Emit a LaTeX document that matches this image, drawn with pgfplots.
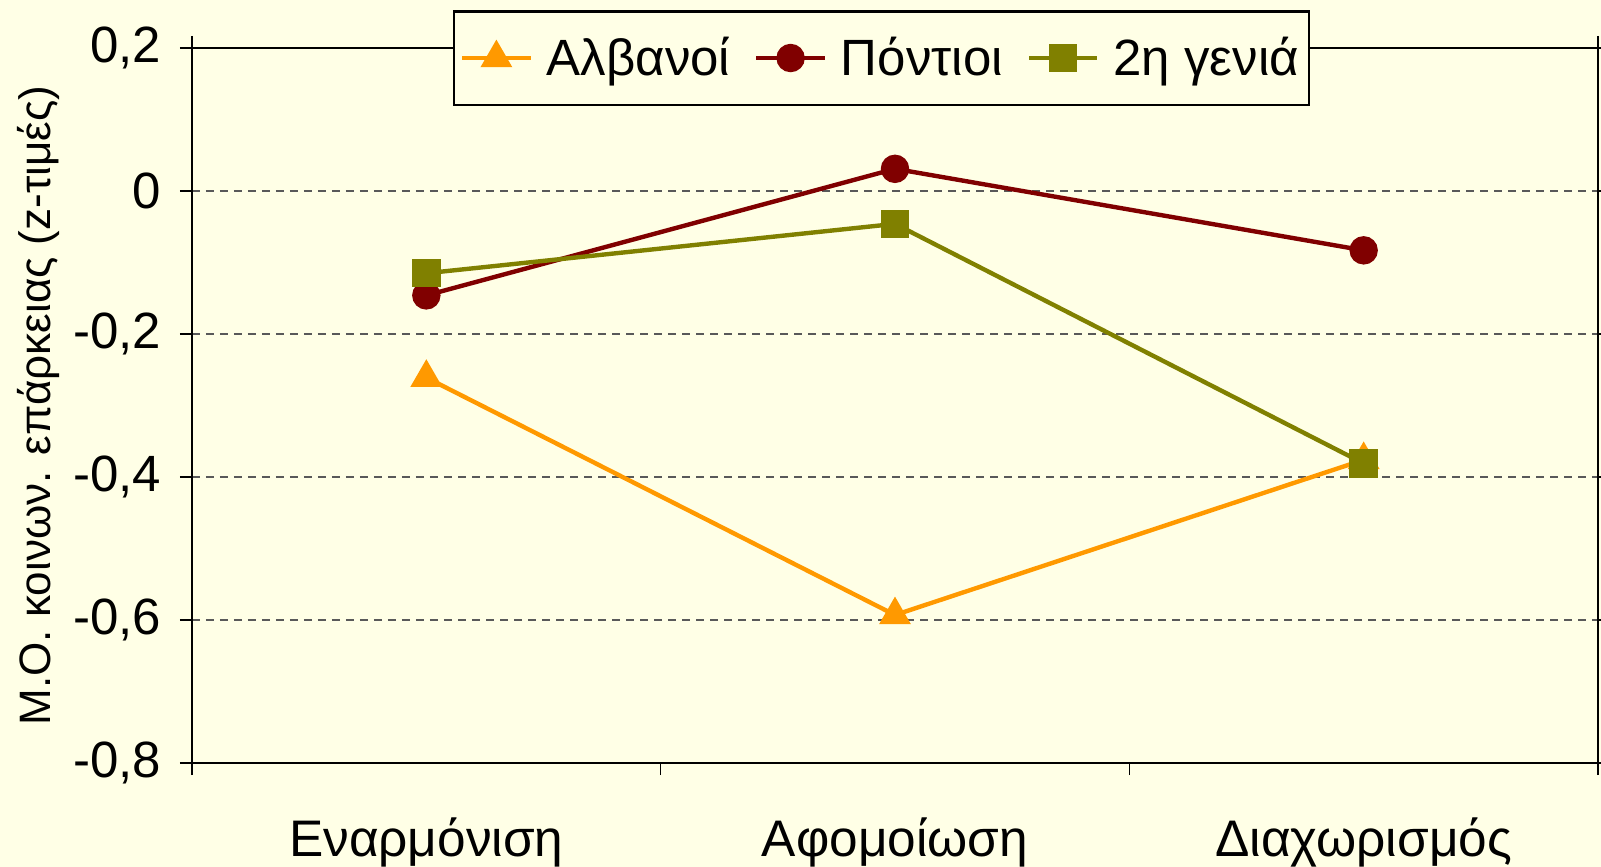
\documentclass[border=0pt]{standalone}
\usepackage{pgfplots}
\pgfplotsset{compat=1.18}
\usepackage{fontspec}
\setmainfont{Liberation Sans}
\definecolor{bg}{RGB}{255,255,230}
\definecolor{alb}{RGB}{255,153,0}
\definecolor{pon}{RGB}{128,0,0}
\definecolor{gen}{RGB}{128,128,0}
\begin{document}
\begin{tikzpicture}
\useasboundingbox[fill=bg] (-96pt,-52pt) rectangle (704.5pt,381.5pt);
\begin{axis}[
  scale only axis,
  width=703pt, height=357.5pt,
  xmin=0, xmax=3, ymin=-0.8, ymax=0.2,
  xtick={0,1,2,3}, xticklabels={},
  extra x ticks={0.5,1.5,2.5},
  extra x tick labels={Εναρμόνιση,Αφομοίωση,Διαχωρισμός},
  extra x tick style={major tick length=0pt, grid=none},
  ytick={-0.8,-0.6,-0.4,-0.2,0,0.2},
  yticklabels={{-0,8},{-0,6},{-0,4},{-0,2},{0},{0,2}},
  tick align=outside,
  major tick length=6pt,
  tick style={black, line width=0.8pt},
  axis line style={black, line width=1.2pt},
  ymajorgrids,
  major grid style={gray!70!black, line width=0.8pt, dash pattern=on 4pt off 3pt},
  yticklabel style={font=\fontsize{25.5}{29}\selectfont, xshift=-6pt},
  xticklabel style={font=\fontsize{25.7}{30}\selectfont, yshift=-24pt},
  ylabel={Μ.Ο. κοινων. επάρκειας (z-τιμές)},
  ylabel style={at={(axis description cs:-0.1095,0.5)}, anchor=center, font=\fontsize{22}{26}\selectfont},
  legend columns=3,
  legend style={at={(axis description cs:0.4904,1.053)}, anchor=north, fill=bg, draw=black, line width=1.2pt,
    font=\fontsize{25.5}{29}\selectfont, inner xsep=3pt, inner ysep=11pt,
    /tikz/every even column/.append style={column sep=10pt},
    /tikz/every odd column/.append style={column sep=5pt}},
  legend image code/.code={\draw[mark repeat=2,mark phase=2] plot coordinates {(0cm,0cm) (0.6cm,0cm) (1.2cm,0cm)};},
  every axis plot/.append style={line width=2.2pt},
]
\addplot[color=alb, mark=triangle*, mark size=7pt, mark options={solid}] coordinates {(0.5,-0.261) (1.5,-0.593) (2.5,-0.376)};
\addlegendentry{Αλβανοί}
\addplot[color=pon, mark=*, mark size=6pt] coordinates {(0.5,-0.146) (1.5,0.031) (2.5,-0.083)};
\addlegendentry{Πόντιοι}
\addplot[color=gen, mark=square*, mark size=6pt] coordinates {(0.5,-0.115) (1.5,-0.046) (2.5,-0.381)};
\addlegendentry{2η γενιά}
\end{axis}
\end{tikzpicture}
\end{document}
